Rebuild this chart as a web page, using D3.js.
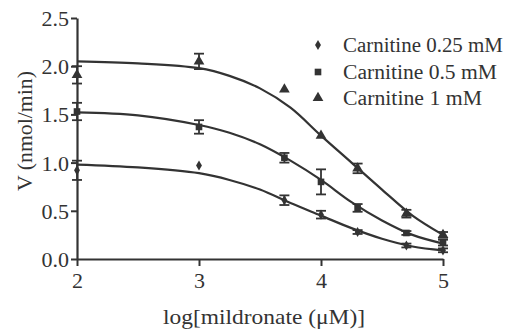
<!DOCTYPE html>
<html><head><meta charset="utf-8">
<script src="https://cdn.jsdelivr.net/npm/d3@7"></script>
<style>body{margin:0;background:#fff}svg{display:block}text{font-family:"Liberation Serif","Times New Roman",serif;fill:#333}</style>
</head><body><svg id="c" width="512" height="330"></svg>
<script>
const xDoses = [2, 3, 3.7, 4, 4.3, 4.7, 5];
const seriesNames = ["Carnitine 0.25 mM", "Carnitine 0.5 mM", "Carnitine 1 mM"];
const vLow  = [0.92, 0.97, 0.61, 0.46, 0.28, 0.14, 0.09];
const eLow  = [0.10, 0, 0.05, 0.04, 0.02, 0.02, 0.02];
const vMid  = [1.53, 1.37, 1.05, 0.80, 0.53, 0.27, 0.17];
const eMid  = [0.09, 0.07, 0.05, 0.13, 0.04, 0.02, 0.03];
const vHigh = [1.91, 2.05, 1.76, 1.28, 0.94, 0.47, 0.25];
const eHigh = [0.09, 0.08, 0, 0, 0.05, 0.04, 0.03];
const fitX     = [2, 2.5, 3, 3.25, 3.5, 3.75, 4, 4.25, 4.5, 4.75, 5];
const fitLow   = [0.98, 0.95, 0.89, 0.82, 0.72, 0.58, 0.45, 0.32, 0.21, 0.13, 0.09];
const fitMid   = [1.52, 1.49, 1.39, 1.31, 1.19, 1.02, 0.82, 0.59, 0.40, 0.25, 0.16];
const fitHigh  = [2.05, 2.03, 1.98, 1.90, 1.77, 1.57, 1.28, 1.00, 0.72, 0.45, 0.25];
const xTicks = [2, 3, 4, 5];
const yTicks = [0, 0.5, 1, 1.5, 2, 2.5];

const svg = d3.select("#c");
const col = "#333";
const x = d3.scaleLinear().domain([2, 5]).range([77, 443]);
const y = d3.scaleLinear().domain([0, 2.5]).range([259, 18]);

const xa = svg.append("g").attr("transform", "translate(0,259)")
  .call(d3.axisBottom(x).tickValues(xTicks).tickFormat(d3.format("d")).tickSize(7).tickSizeOuter(0));
const ya = svg.append("g").attr("transform", "translate(77,0)")
  .call(d3.axisLeft(y).tickValues(yTicks).tickFormat(d3.format(".1f")).tickSize(6).tickSizeOuter(0));
[xa, ya].forEach(a => {
  a.attr("font-family", null);
  a.select(".domain").attr("stroke", col).attr("stroke-width", 2.2);
  a.selectAll(".tick line").attr("stroke", col).attr("stroke-width", 2);
  a.selectAll(".tick text").attr("font-size", 22).attr("fill", col)
    .style("font-family", '"Liberation Serif",serif');
});
xa.selectAll(".tick text").attr("y", 11).attr("dy", "0.8em");
ya.selectAll(".tick text").attr("x", -8).attr("dy", "0.34em");

svg.append("text").attr("x", 264).attr("y", 324).attr("text-anchor", "middle")
  .attr("font-size", 21).attr("textLength", 202).attr("lengthAdjust", "spacingAndGlyphs")
  .text("log[mildronate (\u03bcM)]");
svg.append("text").attr("transform", "translate(32,131) rotate(-90)").attr("text-anchor", "middle")
  .attr("font-size", 20).attr("textLength", 120).attr("lengthAdjust", "spacingAndGlyphs")
  .text("V (nmol/min)");

const line = d3.line().x(d => x(d[0])).y(d => y(d[1])).curve(d3.curveCatmullRom.alpha(0.5));
[fitLow, fitMid, fitHigh].forEach(f => {
  svg.append("path").datum(fitX.map((v, i) => [v, f[i]]))
    .attr("d", line).attr("fill", "none").attr("stroke", col).attr("stroke-width", 2.2);
});

const symbols = [
  d3.symbol().type(d3.symbolDiamond).size(30),
  d3.symbol().type(d3.symbolSquare).size(44),
  d3.symbol().type(d3.symbolTriangle).size(50)
];
const vals = [vLow, vMid, vHigh], errs = [eLow, eMid, eHigh];
vals.forEach((vs, s) => {
  const g = svg.append("g");
  vs.forEach((v, i) => {
    const e = errs[s][i], cx = x(xDoses[i]);
    if (e > 0) {
      g.append("line").attr("x1", cx).attr("x2", cx).attr("y1", y(v - e)).attr("y2", y(v + e))
        .attr("stroke", col).attr("stroke-width", 1.8);
      [v - e, v + e].forEach(t => g.append("line").attr("x1", cx - 5).attr("x2", cx + 5)
        .attr("y1", y(t)).attr("y2", y(t)).attr("stroke", col).attr("stroke-width", 1.8));
    }
    g.append("path").attr("d", symbols[s]()).attr("transform", `translate(${cx},${y(v)})`).attr("fill", col);
  });
});

const ly = [45, 72, 98];
const lw = [160, 154, 139];
seriesNames.forEach((n, i) => {
  svg.append("path").attr("d", symbols[i]()).attr("transform", `translate(318,${ly[i]})`).attr("fill", col);
  svg.append("text").attr("x", 343).attr("y", ly[i] + 7).attr("font-size", 20)
    .attr("textLength", lw[i]).attr("lengthAdjust", "spacingAndGlyphs").text(n);
});
</script></body></html>
